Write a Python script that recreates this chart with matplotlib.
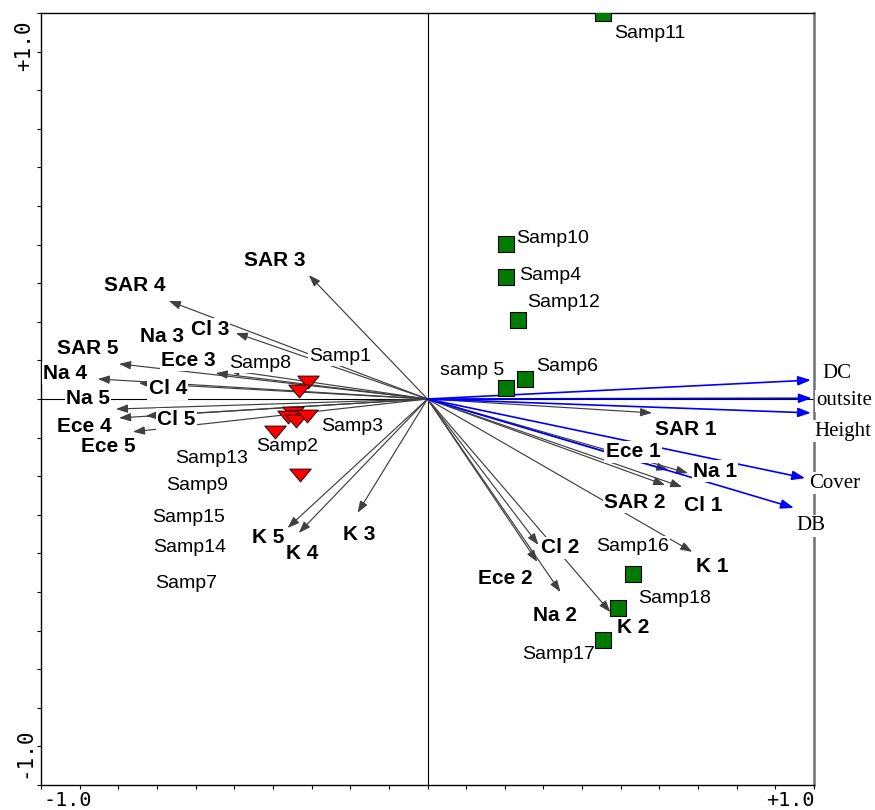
import matplotlib
matplotlib.use("Agg")
import matplotlib.pyplot as plt
from matplotlib.path import Path

# ---------------- data ----------------
species = ["SAR 1", "Ece 1", "Na 1", "SAR 2", "Cl 1", "K 1",
           "Cl 2", "Ece 2", "Na 2", "K 2",
           "SAR 3", "SAR 4", "Cl 3", "Na 3", "Ece 3", "SAR 5", "Na 4", "Cl 4",
           "Na 5", "Ece 4", "Cl 5", "Ece 5", "K 3", "K 4", "K 5"]
species_x = [0.581, 0.623, 0.674, 0.615, 0.659, 0.685,
             0.287, 0.284, 0.344, 0.473,
             -0.307, -0.669, -0.496, -0.517, -0.548, -0.798, -0.853, -0.747,
             -0.806, -0.798, -0.729, -0.762, -0.181, -0.333, -0.362]
species_y = [-0.036, -0.184, -0.192, -0.223, -0.228, -0.396,
             -0.378, -0.422, -0.500, -0.552,
             0.321, 0.254, 0.171, 0.075, 0.067, 0.091, 0.052, 0.041,
             -0.026, -0.049, -0.044, -0.085, -0.295, -0.347, -0.334]

env = ["DC", "outsite", "Height", "Cover", "DB"]
env_x = [0.992, 0.994, 0.992, 0.977, 0.948]
env_y = [0.049, 0.002, -0.036, -0.205, -0.282]

red_samples = ["Samp8", "Samp1", "Samp3", "Samp2", "Samp13", "Samp9", "Samp15", "Samp14", "Samp7"]
red_x = [-0.308, -0.333, -0.349, -0.333, -0.362, -0.341, -0.313, -0.395, -0.331]
red_y = [0.044, 0.020, -0.036, -0.046, -0.047, -0.057, -0.044, -0.085, -0.197]

green_samples = ["Samp11", "Samp10", "Samp4", "Samp12", "Samp6", "samp 5", "Samp16", "Samp18", "Samp17"]
green_x = [0.455, 0.202, 0.202, 0.233, 0.253, 0.202, 0.532, 0.494, 0.455]
green_y = [0.999, 0.402, 0.316, 0.205, 0.052, 0.028, -0.453, -0.541, -0.624]

# ---------------- label layout (data coords) ----------------
species_label_pos = {
    "SAR 1": (0.669, -0.078), "Ece 1": (0.532, -0.137), "Na 1": (0.744, -0.187),
    "SAR 2": (0.537, -0.267), "Cl 1": (0.713, -0.277), "K 1": (0.736, -0.435),
    "Cl 2": (0.344, -0.386), "Ece 2": (0.202, -0.464), "Na 2": (0.331, -0.562),
    "K 2": (0.532, -0.593), "SAR 3": (-0.395, 0.360), "SAR 4": (-0.757, 0.293),
    "Na 3": (-0.687, 0.163), "Cl 3": (-0.563, 0.181), "SAR 5": (-0.879, 0.130),
    "Na 4": (-0.938, 0.067), "Ece 3": (-0.618, 0.101), "Cl 4": (-0.672, 0.026),
    "Na 5": (-0.879, 0.0), "Ece 4": (-0.889, -0.070), "Cl 5": (-0.649, -0.052),
    "Ece 5": (-0.827, -0.124), "K 3": (-0.176, -0.350), "K 4": (-0.323, -0.399),
    "K 5": (-0.411, -0.360),
}
env_label_pos = {
    "DC": (1.059, 0.067), "outsite": (1.078, -0.005), "Height": (1.075, -0.083),
    "Cover": (1.054, -0.218), "DB": (0.992, -0.329),
}
sample_label_pos = {
    "Samp11": (0.576, 0.948), "Samp10": (0.323, 0.415), "Samp4": (0.318, 0.319),
    "Samp12": (0.351, 0.249), "Samp6": (0.362, 0.083), "samp 5": (0.116, 0.075),
    "Samp16": (0.530, -0.381), "Samp18": (0.638, -0.518), "Samp17": (0.339, -0.661),
    "Samp1": (-0.227, 0.111), "Samp8": (-0.432, 0.093), "Samp3": (-0.196, -0.070),
    "Samp2": (-0.364, -0.122), "Samp13": (-0.558, -0.155), "Samp9": (-0.597, -0.225),
    "Samp15": (-0.618, -0.306), "Samp14": (-0.615, -0.386), "Samp7": (-0.625, -0.477),
}

# ---------------- figure ----------------
W, H, DPI = 875, 810, 100
fig = plt.figure(figsize=(W / DPI, H / DPI), dpi=DPI)
ax = fig.add_axes([41 / W, 1 - 785 / H, (814 - 41) / W, (785 - 13) / H])
ax.set_xlim(-1, 1)
ax.set_ylim(-1, 1)

for s in ["top", "left", "bottom"]:
    ax.spines[s].set_color("black")
    ax.spines[s].set_linewidth(1.0)
ax.spines["right"].set_color("#707070")
ax.spines["right"].set_linewidth(1.8)

ticks = [i / 10 for i in range(-10, 11)]
ax.set_xticks(ticks)
ax.set_yticks(ticks)
ax.tick_params(axis="both", direction="out", length=3, width=0.8, color="black",
               labelbottom=False, labelleft=False, top=False, right=False)

# zero axes
ax.axhline(0, color="black", lw=0.8, zorder=1)
ax.axvline(0, color="black", lw=0.8, zorder=1)

# species arrows
for x, y in zip(species_x, species_y):
    ax.annotate("", xy=(x, y), xytext=(0, 0),
                arrowprops=dict(arrowstyle="-|>,head_length=0.5,head_width=0.18",
                                color="#404040", lw=0.85, shrinkA=0, shrinkB=0,
                                mutation_scale=14),
                zorder=2)

# env arrows
for x, y in zip(env_x, env_y):
    ax.annotate("", xy=(x, y), xytext=(0, 0),
                arrowprops=dict(arrowstyle="-|>,head_length=0.55,head_width=0.2",
                                color="#0000ff", lw=1.2, shrinkA=0, shrinkB=0,
                                mutation_scale=14),
                zorder=2.6)

box = dict(boxstyle="square,pad=0.06", facecolor="white", edgecolor="none")

for name in species:
    lx, ly = species_label_pos[name]
    ax.text(lx, ly, name, ha="center", va="center", fontsize=15, fontweight="bold",
            family="Liberation Sans", color="black", bbox=box, zorder=3)

for name in env:
    lx, ly = env_label_pos[name]
    ax.text(lx, ly, name, ha="center", va="center", fontsize=15,
            family="Liberation Serif", color="black", bbox=box, zorder=3, clip_on=False)

for name in red_samples + green_samples:
    lx, ly = sample_label_pos[name]
    ax.text(lx, ly, name, ha="center", va="center", fontsize=14,
            family="Liberation Sans", color="black", bbox=box, zorder=3)

tri = Path([(-1, 0.6), (1, 0.6), (0, -0.6), (-1, 0.6)],
           [Path.MOVETO, Path.LINETO, Path.LINETO, Path.CLOSEPOLY])
ax.plot(red_x, red_y, linestyle="none", marker=tri, markersize=15.5,
        markerfacecolor="#ff0000", markeredgecolor="black", markeredgewidth=0.6, zorder=4)
ax.plot(green_x, green_y, linestyle="none", marker="s", markersize=11.5,
        markerfacecolor="#007a00", markeredgecolor="black", markeredgewidth=0.8, zorder=4)

# axis end labels
fig.text(68 / W, 1 - 801 / H, "-1.0", ha="center", va="center", fontsize=14.5,
         family="DejaVu Sans Mono")
fig.text(790 / W, 1 - 801 / H, "+1.0", ha="center", va="center", fontsize=14.5,
         family="DejaVu Sans Mono")
fig.text(24 / W, 1 - 46 / H, "+1.0", ha="center", va="center", fontsize=15,
         family="DejaVu Sans Mono", rotation=90)
fig.text(24 / W, 1 - 753 / H, "-1.0", ha="center", va="center", fontsize=15,
         family="DejaVu Sans Mono", rotation=90)

fig.savefig("out.png", dpi=DPI)
